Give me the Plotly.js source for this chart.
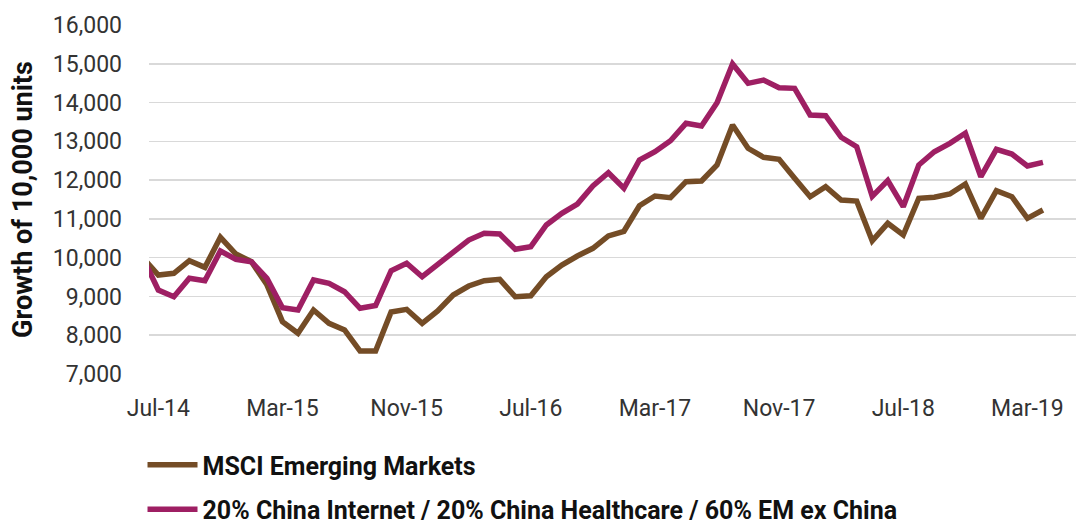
<!DOCTYPE html>
<html>
<head>
<meta charset="utf-8">
<script src="https://cdn.plot.ly/plotly-3.0.1.min.js"></script>
<style>
  html, body { margin: 0; padding: 0; background: #fff; }
  #chart { width: 1076px; height: 526px; }
</style>
</head>
<body>
<div id="chart"></div>
<script>
// month-end labels, Jun-14 is the 10,000 starting point
const months = [
    'Jun-14', 'Jul-14', 'Aug-14', 'Sep-14', 'Oct-14', 'Nov-14', 'Dec-14',
    'Jan-15', 'Feb-15', 'Mar-15', 'Apr-15', 'May-15', 'Jun-15', 'Jul-15', 'Aug-15', 'Sep-15', 'Oct-15', 'Nov-15', 'Dec-15',
    'Jan-16', 'Feb-16', 'Mar-16', 'Apr-16', 'May-16', 'Jun-16', 'Jul-16', 'Aug-16', 'Sep-16', 'Oct-16', 'Nov-16', 'Dec-16',
    'Jan-17', 'Feb-17', 'Mar-17', 'Apr-17', 'May-17', 'Jun-17', 'Jul-17', 'Aug-17', 'Sep-17', 'Oct-17', 'Nov-17', 'Dec-17',
    'Jan-18', 'Feb-18', 'Mar-18', 'Apr-18', 'May-18', 'Jun-18', 'Jul-18', 'Aug-18', 'Sep-18', 'Oct-18', 'Nov-18', 'Dec-18',
    'Jan-19', 'Feb-19', 'Mar-19', 'Apr-19'
];

const msci_em = [
    10000, 9553, 9597, 9922, 9750, 10525, 10094, 9896, 9300, 8349, 8049, 8650, 8307, 8135, 7590, 7590,
    8600, 8668, 8307, 8625, 9037, 9269, 9406, 9442, 8993, 9019, 9509, 9811, 10043, 10241, 10560,
    10680, 11340, 11590, 11546, 11959, 11977, 12389, 13421, 12820, 12588, 12537, 12047, 11572, 11830,
    11487, 11460, 10437, 10886, 10584, 11531, 11557, 11642, 11900, 11015, 11727, 11572, 11015, 11229
];

const blend = [
    10000, 9166, 8993, 9468, 9406, 10172, 9958, 9896, 9468, 8710, 8650, 9424, 9339, 9122, 8694, 8766,
    9664, 9855, 9509, 9811, 10154, 10455, 10628, 10610, 10216, 10283, 10842, 11144, 11384, 11848, 12191,
    11789, 12518, 12732, 13016, 13465, 13395, 13996, 14994, 14496, 14581, 14383, 14367, 13679, 13661,
    13104, 12861, 11581, 11990, 11314, 12389, 12732, 12949, 13207, 12088, 12794, 12673, 12364, 12459
];

const tick_months = ['Jul-14', 'Mar-15', 'Nov-15', 'Jul-16', 'Mar-17', 'Nov-17', 'Jul-18', 'Mar-19'];
const y_ticks = [7000, 8000, 9000, 10000, 11000, 12000, 13000, 14000, 15000, 16000];

const names = ['MSCI Emerging Markets', '20% China Internet / 20% China Healthcare / 60% EM ex China'];
const colors = ['#744c26', '#9e1f63'];

function series(y, i) {
    return {
        x: months, y, name: names[i], type: 'scatter', mode: 'lines',
        line: {color: colors[i], width: 5.5},
        legendgroup: 'g' + i, hoverinfo: 'skip',
    };
}

const data = [series(msci_em, 0), series(blend, 1)];

const layout = {
    width: 1076,
    height: 526,
    // fixed margins, the legend may not push the plot up
    margin: {l: 149, r: 0, t: 25, b: 152, autoexpand: false},
    paper_bgcolor: '#fff',
    plot_bgcolor: '#fff',
    font: {family: 'Roboto, sans-serif', color: '#333'},
    showlegend: true,
    legend: {
        orientation: 'v', x: -0.007, xanchor: 'left', y: -0.195, yanchor: 'top',
        traceorder: 'grouped', tracegroupgap: 9,
        font: {size: 25, color: '#111', weight: 'bold'},
        itemwidth: 50,
    },
    xaxis: {
        type: 'category',
        range: [0.4, 60.13],
        tickmode: 'array',
        tickvals: tick_months,
        ticktext: tick_months,
        showgrid: false,
        zeroline: false,
        showline: false,
        ticks: '',
        ticklabelstandoff: 18,
        tickfont: {size: 23, color: '#333'},
    },
    yaxis: {
        range: [7000, 16000],
        tickvals: y_ticks,
        tickformat: ',d',
        showgrid: true,
        gridcolor: '#d9d9d9',
        gridwidth: 1.5,
        zeroline: false,
        showline: false,
        ticks: '',
        ticklabelstandoff: 26,
        tickfont: {size: 23, color: '#333'},
        title: {text: 'Growth of 10,000 units', font: {size: 27, color: '#111', weight: 'bold'}, standoff: 12},
    },
};

Plotly.newPlot('chart', data, layout, {staticPlot: true});
</script>
</body>
</html>
